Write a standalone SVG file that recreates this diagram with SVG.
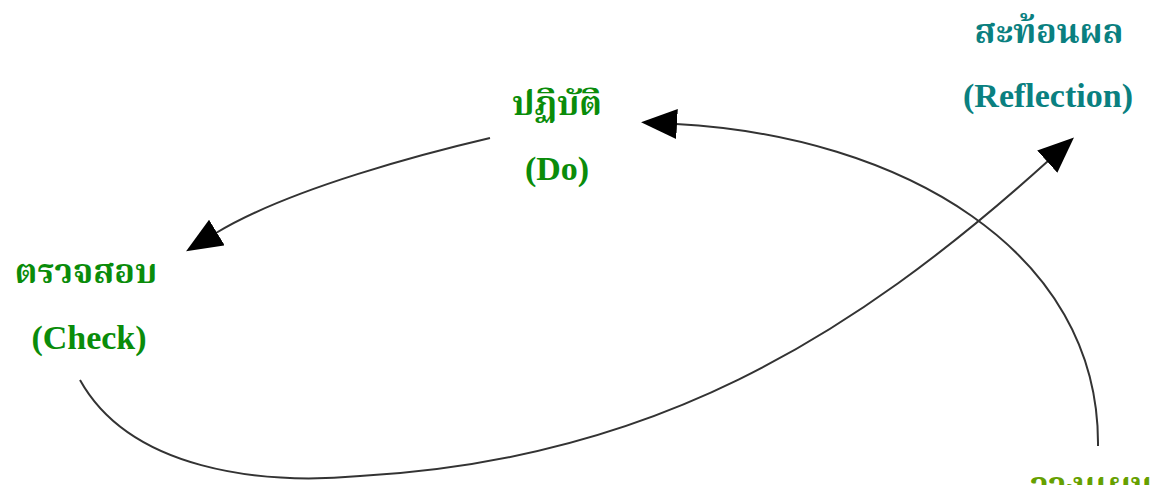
<svg xmlns="http://www.w3.org/2000/svg" width="1170" height="485" viewBox="0 0 1170 485">
<style>
  text { font-family: "Liberation Serif", "Noto Serif Thai", "Noto Sans Thai", "DejaVu Serif", serif; font-weight: bold; font-size: 34px; text-anchor: middle; }
  .green { fill: #0a8c0a; }
  .teal { fill: #0a8080; }
  .olive { fill: #66a000; }
  .conn { fill: none; stroke: #333333; stroke-width: 2; marker-end: url(#arrow); }
</style>
<defs>
  <marker id="arrow" markerUnits="userSpaceOnUse" markerWidth="40" markerHeight="32" refX="1" refY="15" orient="auto">
    <path d="M0,0 L36,15 L0,30 z" fill="#000000"/>
  </marker>
</defs>
<rect width="1170" height="485" fill="#ffffff"/>
<g id="connectors">
  <path class="conn" d="M490,138 C430,152 290,188 216,233"/>
  <path class="conn" d="M80,380 C130,470 260,485 360,476 C650,460 850,340 1048,161"/>
  <path class="conn" d="M1098,446 C1100,250 900,136 676,124"/>
</g>
<g id="node-do">
  <text class="green" x="557" y="115">ปฏิบัติ</text>
  <text class="green" x="557" y="180">(Do)</text>
</g>
<g id="node-check">
  <text class="green" x="86" y="283">ตรวจสอบ</text>
  <text class="green" x="89" y="349">(Check)</text>
</g>
<g id="node-reflection">
  <text class="teal" x="1049" y="43">สะท้อนผล</text>
  <text class="teal" x="1048" y="107">(Reflection)</text>
</g>
<g id="node-plan">
  <text class="olive" x="1092" y="496">วางแผน</text>
</g>
</svg>
